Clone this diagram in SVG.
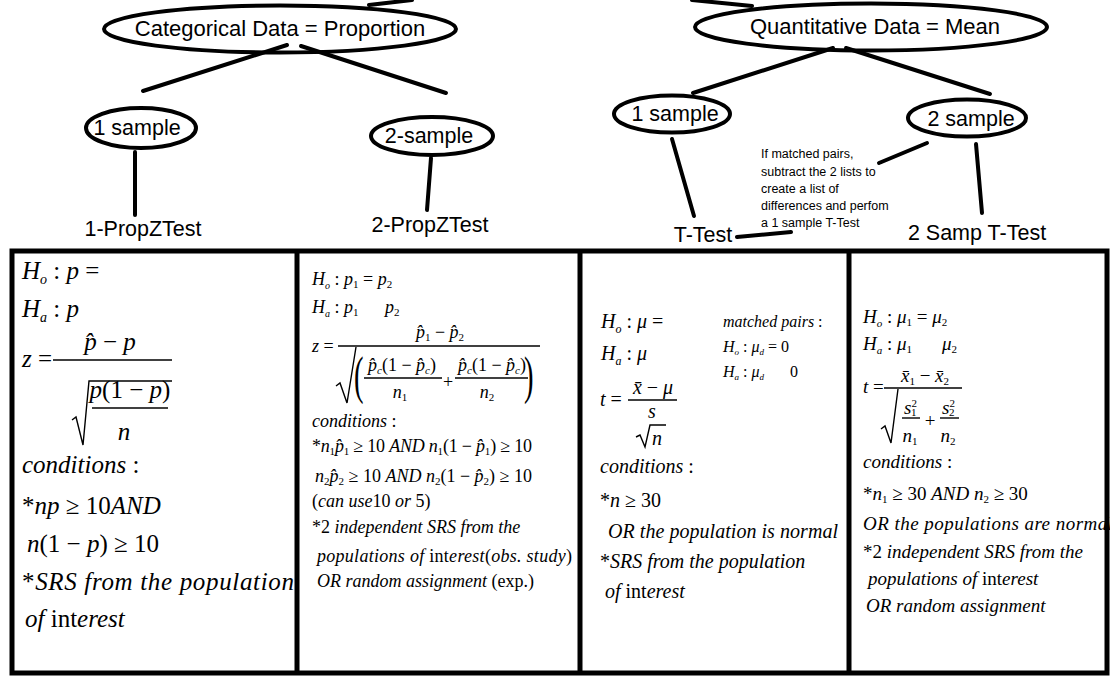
<svg xmlns="http://www.w3.org/2000/svg" width="1110" height="680" viewBox="0 0 1110 680">
<style>
.lbl{font-family:"Liberation Sans",Arial,sans-serif;fill:#000}
.node ellipse{fill:none;stroke:#000;stroke-width:4}
.conn line{stroke:#000;stroke-width:4;stroke-linecap:round}
.m{font-family:"Liberation Serif","Times New Roman",serif;fill:#000}
.i{font-style:italic}
.bar{stroke:#000;stroke-width:1.4;fill:none}
.frame{fill:none;stroke:#000;stroke-width:5}
</style>
<rect x="0" y="0" width="1110" height="680" fill="#fff"/>

<g id="connectors" class="conn">
<line x1="369" y1="5" x2="412" y2="0"/>
<line x1="692" y1="0" x2="752" y2="6"/>
<line x1="287" y1="45" x2="143" y2="91"/>
<line x1="301" y1="46" x2="446" y2="93"/>
<line x1="135" y1="152" x2="135" y2="215"/>
<line x1="431" y1="158" x2="427" y2="210"/>
<line x1="833" y1="48" x2="693" y2="93"/>
<line x1="846" y1="48" x2="990" y2="94"/>
<line x1="672" y1="139" x2="694" y2="216"/>
<line x1="976" y1="144" x2="982" y2="213"/>
<line x1="879" y1="163" x2="927" y2="143"/>
<line x1="737" y1="237" x2="791" y2="232"/>
</g>

<g id="categorical" class="node">
<ellipse cx="280" cy="29" rx="176" ry="23.5"/>
<text class="lbl" x="280" y="36" font-size="22" text-anchor="middle">Categorical Data = Proportion</text>
</g>
<g id="quantitative" class="node">
<ellipse cx="871" cy="27" rx="176" ry="23.5"/>
<text class="lbl" x="875" y="34" font-size="22" text-anchor="middle">Quantitative Data = Mean</text>
</g>
<g id="cat-1sample" class="node">
<ellipse cx="141" cy="128" rx="55" ry="20"/>
<text class="lbl" x="137" y="135" font-size="21.5" text-anchor="middle">1 sample</text>
</g>
<g id="cat-2sample" class="node">
<ellipse cx="432" cy="136" rx="61" ry="19"/>
<text class="lbl" x="429" y="143" font-size="21.5" text-anchor="middle">2-sample</text>
</g>
<g id="q-1sample" class="node">
<ellipse cx="672" cy="114" rx="58" ry="18.5"/>
<text class="lbl" x="675" y="121" font-size="21.5" text-anchor="middle">1 sample</text>
</g>
<g id="q-2sample" class="node">
<ellipse cx="967" cy="118" rx="59" ry="18.5"/>
<text class="lbl" x="971" y="126" font-size="21.5" text-anchor="middle">2 sample</text>
</g>
<g id="test-1prop"><text class="lbl" x="143" y="236" font-size="21.5" text-anchor="middle">1-PropZTest</text></g>
<g id="test-2prop"><text class="lbl" x="430" y="232" font-size="21.5" text-anchor="middle">2-PropZTest</text></g>
<g id="test-t"><text class="lbl" x="703" y="242" font-size="21.5" text-anchor="middle">T-Test</text></g>
<g id="test-2t"><text class="lbl" x="977" y="240" font-size="21.5" text-anchor="middle">2 Samp T-Test</text></g>
<g id="note-matched" class="lbl" font-size="12.5">
<text x="761" y="158">If matched pairs,</text>
<text x="761" y="176">subtract the 2 lists to</text>
<text x="761" y="193">create a list of</text>
<text x="761" y="210">differences and perfom</text>
<text x="761" y="227">a 1 sample T-Test</text>
</g>

<!-- Box 1 -->
<g id="box-1prop" class="m" font-size="25">
<text x="22" y="279"><tspan class="i">H</tspan><tspan class="i" font-size="14" dy="5">o</tspan><tspan dy="-5"> : </tspan><tspan class="i">p</tspan> =</text>
<text x="22" y="317"><tspan class="i">H</tspan><tspan class="i" font-size="14" dy="5">a</tspan><tspan dy="-5"> : </tspan><tspan class="i">p</tspan></text>
<text x="22" y="367"><tspan class="i">z</tspan> =</text>
<text x="110" y="350" text-anchor="middle"><tspan class="i">p̂</tspan> − <tspan class="i">p</tspan></text>
<line class="bar" x1="53" y1="360" x2="172" y2="360"/>
<polyline class="bar" points="72,420 76,417 83,445 89,381 172,381"/>
<text x="130" y="398" text-anchor="middle"><tspan class="i">p</tspan>(1 − <tspan class="i">p</tspan>)</text>
<line class="bar" x1="92" y1="408" x2="168" y2="408"/>
<text x="124" y="440" text-anchor="middle" class="i">n</text>
<text x="22" y="473"><tspan class="i">conditions</tspan> :</text>
<text x="22" y="514">*<tspan class="i">np</tspan> ≥ 10<tspan class="i">AND</tspan></text>
<text x="27" y="552"><tspan class="i">n</tspan>(1 − <tspan class="i">p</tspan>) ≥ 10</text>
<text x="22" y="590" textLength="272">*<tspan class="i">SRS from the population</tspan></text>
<text x="25" y="627"><tspan class="i">of</tspan> int<tspan class="i">erest</tspan></text>
</g>

<!-- Box 2 -->
<g id="box-2prop" class="m" font-size="18">
<text x="312" y="285"><tspan class="i">H</tspan><tspan class="i" font-size="10" dy="4">o</tspan><tspan dy="-4"> : </tspan><tspan class="i">p</tspan><tspan font-size="11" dy="3">1</tspan><tspan dy="-3"> = </tspan><tspan class="i">p</tspan><tspan font-size="11" dy="3">2</tspan></text>
<text x="312" y="313"><tspan class="i">H</tspan><tspan class="i" font-size="10" dy="4">a</tspan><tspan dy="-4"> : </tspan><tspan class="i">p</tspan><tspan font-size="11" dy="3">1</tspan></text>
<text x="385" y="313"><tspan class="i">p</tspan><tspan font-size="11" dy="3">2</tspan></text>
<text x="312" y="352"><tspan class="i">z</tspan> =</text>
<text x="440" y="338" text-anchor="middle"><tspan class="i">p̂</tspan><tspan font-size="11" dy="3">1</tspan><tspan dy="-3"> − </tspan><tspan class="i">p̂</tspan><tspan font-size="11" dy="3">2</tspan></text>
<line class="bar" x1="338" y1="346" x2="540" y2="346"/>
<polyline class="bar" points="336,386 340,383 347,403 356,347"/>
<text x="354" y="393" font-size="52" transform="translate(354 393) scale(0.55 1) translate(-354 -393)">(</text>
<text x="524" y="393" font-size="52" transform="translate(524 393) scale(0.55 1) translate(-524 -393)">)</text>
<text x="402" y="371" text-anchor="middle"><tspan class="i">p̂</tspan><tspan class="i" font-size="11" dy="3">c</tspan><tspan dy="-3">(1 − </tspan><tspan class="i">p̂</tspan><tspan class="i" font-size="11" dy="3">c</tspan><tspan dy="-3">)</tspan></text>
<line class="bar" x1="364" y1="378" x2="442" y2="378"/>
<text x="400" y="398" text-anchor="middle"><tspan class="i">n</tspan><tspan font-size="11" dy="3">1</tspan></text>
<text x="448" y="388" text-anchor="middle">+</text>
<text x="492" y="371" text-anchor="middle"><tspan class="i">p̂</tspan><tspan class="i" font-size="11" dy="3">c</tspan><tspan dy="-3">(1 − </tspan><tspan class="i">p̂</tspan><tspan class="i" font-size="11" dy="3">c</tspan><tspan dy="-3">)</tspan></text>
<line class="bar" x1="455" y1="378" x2="528" y2="378"/>
<text x="487" y="398" text-anchor="middle"><tspan class="i">n</tspan><tspan font-size="11" dy="3">2</tspan></text>
<text x="312" y="427"><tspan class="i">conditions</tspan> :</text>
<text x="312" y="452" textLength="220">*<tspan class="i">n</tspan><tspan font-size="11" dy="3">1</tspan><tspan class="i" dy="-3">p̂</tspan><tspan font-size="11" dy="3">1</tspan><tspan dy="-3"> ≥ 10 </tspan><tspan class="i">AND n</tspan><tspan font-size="11" dy="3">1</tspan><tspan dy="-3">(1 − </tspan><tspan class="i">p̂</tspan><tspan font-size="11" dy="3">1</tspan><tspan dy="-3">) ≥ 10</tspan></text>
<text x="315" y="482" textLength="217"><tspan class="i">n</tspan><tspan font-size="11" dy="3">2</tspan><tspan class="i" dy="-3">p̂</tspan><tspan font-size="11" dy="3">2</tspan><tspan dy="-3"> ≥ 10 </tspan><tspan class="i">AND n</tspan><tspan font-size="11" dy="3">2</tspan><tspan dy="-3">(1 − </tspan><tspan class="i">p̂</tspan><tspan font-size="11" dy="3">2</tspan><tspan dy="-3">) ≥ 10</tspan></text>
<text x="312" y="507">(<tspan class="i">can use</tspan>10 <tspan class="i">or</tspan> 5)</text>
<text x="312" y="533">*2 <tspan class="i">independent SRS from the</tspan></text>
<text x="317" y="562" textLength="255"><tspan class="i">populations of</tspan> int<tspan class="i">erest</tspan>(<tspan class="i">obs. study</tspan>)</text>
<text x="317" y="587"><tspan class="i">OR random assignment</tspan> (exp.)</text>
</g>

<!-- Box 3 -->
<g id="box-ttest" class="m" font-size="20">
<text x="601" y="328"><tspan class="i">H</tspan><tspan class="i" font-size="12" dy="5">o</tspan><tspan dy="-5"> : </tspan><tspan class="i">μ</tspan> =</text>
<text x="601" y="360"><tspan class="i">H</tspan><tspan class="i" font-size="12" dy="5">a</tspan><tspan dy="-5"> : </tspan><tspan class="i">μ</tspan></text>
<text x="600" y="406"><tspan class="i">t</tspan> =</text>
<text x="653" y="394" text-anchor="middle"><tspan class="i">x̄</tspan> − <tspan class="i">μ</tspan></text>
<line class="bar" x1="628" y1="400" x2="677" y2="400"/>
<text x="652" y="418" text-anchor="middle" class="i">s</text>
<polyline class="bar" points="636,437 640,435 645,447 650,425 666,425"/>
<text x="657" y="445" text-anchor="middle" class="i">n</text>
<text x="600" y="473"><tspan class="i">conditions</tspan> :</text>
<text x="600" y="507">*<tspan class="i">n</tspan> ≥ 30</text>
<text x="608" y="538" class="i" textLength="230">OR the population is normal</text>
<text x="600" y="568">*<tspan class="i">SRS from the population</tspan></text>
<text x="605" y="598"><tspan class="i">of</tspan> int<tspan class="i">erest</tspan></text>
<text x="723" y="327" font-size="16"><tspan class="i">matched pairs</tspan> :</text>
<text x="723" y="352" font-size="16"><tspan class="i">H</tspan><tspan class="i" font-size="9" dy="3">o</tspan><tspan dy="-3"> : </tspan><tspan class="i">μ</tspan><tspan class="i" font-size="9" dy="3">d</tspan><tspan dy="-3"> = 0</tspan></text>
<text x="723" y="377" font-size="16"><tspan class="i">H</tspan><tspan class="i" font-size="9" dy="3">a</tspan><tspan dy="-3"> : </tspan><tspan class="i">μ</tspan><tspan class="i" font-size="9" dy="3">d</tspan></text>
<text x="790" y="377" font-size="16">0</text>
</g>

<!-- Box 4 -->
<g id="box-2samp" class="m" font-size="19">
<text x="863" y="323"><tspan class="i">H</tspan><tspan class="i" font-size="11" dy="4">o</tspan><tspan dy="-4"> : </tspan><tspan class="i">μ</tspan><tspan font-size="11" dy="3">1</tspan><tspan dy="-3"> = </tspan><tspan class="i">μ</tspan><tspan font-size="11" dy="3">2</tspan></text>
<text x="863" y="350"><tspan class="i">H</tspan><tspan class="i" font-size="11" dy="4">a</tspan><tspan dy="-4"> : </tspan><tspan class="i">μ</tspan><tspan font-size="11" dy="3">1</tspan></text>
<text x="942" y="350"><tspan class="i">μ</tspan><tspan font-size="11" dy="3">2</tspan></text>
<text x="863" y="393"><tspan class="i">t</tspan> =</text>
<text x="925" y="382" text-anchor="middle"><tspan class="i">x̄</tspan><tspan font-size="11" dy="3">1</tspan><tspan dy="-3"> − </tspan><tspan class="i">x̄</tspan><tspan font-size="11" dy="3">2</tspan></text>
<line class="bar" x1="884" y1="388" x2="962" y2="388"/>
<polyline class="bar" points="881,429 885,426 891,443 898,389"/>
<text x="904" y="414"><tspan class="i">s</tspan><tspan font-size="11" dy="-7">2</tspan><tspan font-size="11" x="911" dy="9">1</tspan></text>
<line class="bar" x1="902" y1="418" x2="920" y2="418"/>
<text x="910" y="442" text-anchor="middle"><tspan class="i">n</tspan><tspan font-size="11" dy="3">1</tspan></text>
<text x="930" y="427" text-anchor="middle">+</text>
<text x="942" y="414"><tspan class="i">s</tspan><tspan font-size="11" dy="-7">2</tspan><tspan font-size="11" x="949" dy="9">2</tspan></text>
<line class="bar" x1="940" y1="418" x2="959" y2="418"/>
<text x="948" y="442" text-anchor="middle"><tspan class="i">n</tspan><tspan font-size="11" dy="3">2</tspan></text>
<text x="863" y="468"><tspan class="i">conditions</tspan> :</text>
<text x="863" y="500">*<tspan class="i">n</tspan><tspan font-size="11" dy="3">1</tspan><tspan dy="-3"> ≥ 30  </tspan><tspan class="i">AND  n</tspan><tspan font-size="11" dy="3">2</tspan><tspan dy="-3"> ≥ 30</tspan></text>
<text x="863" y="530" class="i" textLength="250">OR the  populations are normal</text>
<text x="863" y="558">*2 <tspan class="i">independent SRS from the</tspan></text>
<text x="868" y="585"><tspan class="i">populations of</tspan> int<tspan class="i">erest</tspan></text>
<text x="866" y="612" class="i">OR random assignment</text>
</g>

<g id="table-frame">
<rect class="frame" x="12" y="251" width="1095" height="422"/>
<line class="frame" x1="297" y1="251" x2="297" y2="673"/>
<line class="frame" x1="580" y1="251" x2="580" y2="673"/>
<line class="frame" x1="849" y1="251" x2="849" y2="673"/>
</g>
</svg>
